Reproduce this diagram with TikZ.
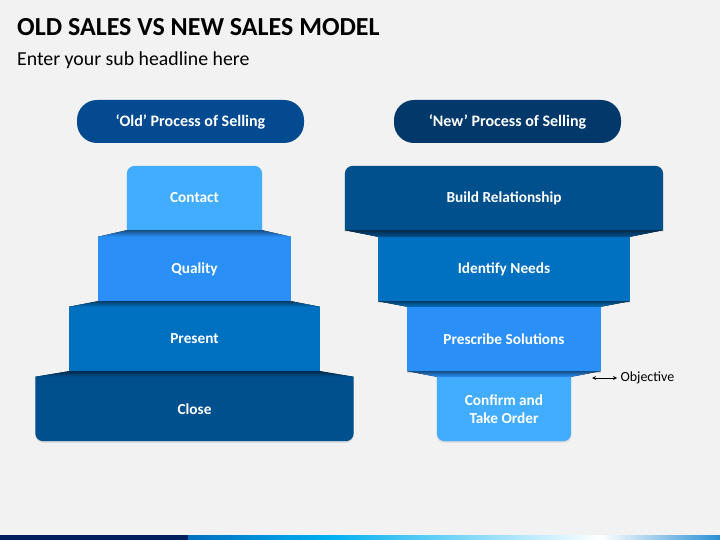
\documentclass[tikz,border=0pt]{standalone}
\usepackage{fontspec}
\setmainfont{Carlito}
\usetikzlibrary{backgrounds,shadows}
\definecolor{pagebg}{HTML}{F2F2F2}
\definecolor{oldpill}{HTML}{044A90}
\definecolor{newpill}{HTML}{03386B}
\definecolor{lightband}{HTML}{42ADFE}
\definecolor{midband}{HTML}{2A90F8}
\definecolor{blueband}{HTML}{0070C0}
\definecolor{darkband}{HTML}{00508E}
\definecolor{barnavy}{HTML}{002060}
\definecolor{barcyan}{HTML}{00B0F0}
\definecolor{barend}{HTML}{2A8FD5}
\begin{document}
\begin{tikzpicture}[x=1pt,y=-1pt,
	band/.style={minimum width=#1, minimum height=64pt, inner sep=0pt, text=white, align=center, font=\bfseries\fontsize{15.3}{18}\selectfont},
	pill/.style={rounded corners=20pt, minimum width=227pt, minimum height=43pt, inner sep=0pt, text=white, font=\bfseries\fontsize{16}{18}\selectfont},
	bevel/.style={top color=#1!55!black, bottom color=#1},
	softshadow/.style={drop shadow={shadow xshift=0pt, shadow yshift=-1.5pt, opacity=0.25}}]
	\useasboundingbox (0,0) rectangle (720,540);
	%
	\node[anchor = base west, inner sep=0pt, font=\bfseries\fontsize{26}{30}\selectfont] (title) at (17,36) {OLD SALES VS NEW SALES MODEL};
	\node[anchor = base west, inner sep=0pt, font=\fontsize{19.8}{23}\selectfont] (subtitle) at (17,65.5) {Enter your sub headline here};
	%
	\node[pill, fill=oldpill] (oldhead) at (190.5,121.5) {‘Old’ Process of Selling};
	\node[pill, fill=newpill] (newhead) at (507.5,121.5) {‘New’ Process of Selling};
	%
	\node[band=135pt] (contact) at (194.5,198) {Contact};
	\node[band=193pt] (quality) at (194.5,269) {Quality};
	\node[band=251pt] (present) at (194.5,339) {Present};
	\node[band=318pt] (close) at (194.5,409) {Close};
	%
	\node[band=318pt] (build) at (504,198) {Build Relationship};
	\node[band=252pt] (identify) at (504,269) {Identify Needs};
	\node[band=193pt] (prescribe) at (504,339) {Prescribe Solutions};
	\node[band=134pt] (confirm) at (504,409) {Confirm and\\Take Order};
	%
	\coordinate (objtip) at (592,378);
	\node[anchor = west, font=\fontsize{14}{16}\selectfont] (objective) at (617,378) {Objective};
	\draw[black, thick, stealth-stealth] (objtip)--(objective.west);
	%
	\begin{scope}[on background layer]
		\fill[pagebg] (0,0) rectangle (720,540);
		%
		\fill[lightband, softshadow] (contact.south west) -- ([yshift=-8pt]contact.north west) arc[start angle=180, end angle=90, radius=8pt] -- ([xshift=-8pt]contact.north east) arc[start angle=90, end angle=0, radius=8pt] -- (contact.south east) -- cycle;
		\fill[midband, softshadow] (quality.south west) rectangle (quality.north east);
		\fill[blueband, softshadow] (present.south west) rectangle (present.north east);
		\fill[darkband, softshadow] (close.north west) -- ([yshift=8pt]close.south west) arc[start angle=180, end angle=270, radius=8pt] -- ([xshift=-8pt]close.south east) arc[start angle=270, end angle=360, radius=8pt] -- (close.north east) -- cycle;
		%
		\fill[bevel=midband] (contact.south west) -- (contact.south east) -- (quality.north east) -- (quality.north west) -- cycle;
		\fill[bevel=blueband] (quality.south west) -- (quality.south east) -- (present.north east) -- (present.north west) -- cycle;
		\fill[bevel=darkband] (present.south west) -- (present.south east) -- (close.north east) -- (close.north west) -- cycle;
		%
		\fill[darkband, softshadow] (build.south west) -- ([yshift=-8pt]build.north west) arc[start angle=180, end angle=90, radius=8pt] -- ([xshift=-8pt]build.north east) arc[start angle=90, end angle=0, radius=8pt] -- (build.south east) -- cycle;
		\fill[blueband, softshadow] (identify.south west) rectangle (identify.north east);
		\fill[midband, softshadow] (prescribe.south west) rectangle (prescribe.north east);
		\fill[lightband, softshadow] (confirm.north west) -- ([yshift=8pt]confirm.south west) arc[start angle=180, end angle=270, radius=8pt] -- ([xshift=-8pt]confirm.south east) arc[start angle=270, end angle=360, radius=8pt] -- (confirm.north east) -- cycle;
		%
		\fill[bevel=darkband] (build.south west) -- (build.south east) -- (identify.north east) -- (identify.north west) -- cycle;
		\fill[bevel=blueband] (identify.south west) -- (identify.south east) -- (prescribe.north east) -- (prescribe.north west) -- cycle;
		\fill[bevel=midband] (prescribe.south west) -- (prescribe.south east) -- (confirm.north east) -- (confirm.north west) -- cycle;
		%
		\fill[barnavy] (0,535) rectangle (188,540);
		\shade[left color=blueband, right color=barcyan] (188,535) rectangle (330,540);
		\shade[left color=barcyan, right color=white] (330,535) rectangle (601,540);
		\shade[left color=white, right color=barend] (601,535) rectangle (720,540);
	\end{scope}
\end{tikzpicture}
\end{document}
